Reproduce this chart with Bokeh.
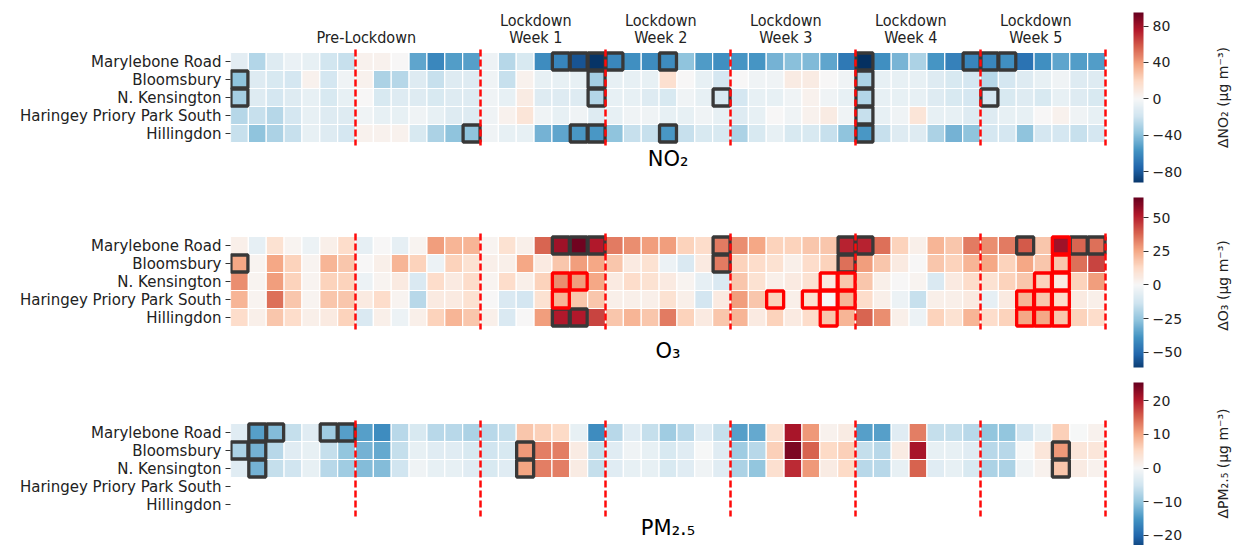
import numpy as np
from bokeh.plotting import figure
from bokeh.models import Range1d, LinearColorMapper, ColorBar, FixedTicker, ColumnDataSource
from bokeh.embed import file_html
from bokeh.resources import INLINE
from bokeh.core.properties import value

# ---------------- data ----------------
stations = ["Marylebone Road", "Bloomsbury", "N. Kensington",
            "Haringey Priory Park South", "Hillingdon"]
period_names = ["Pre-Lockdown", "Week 1", "Week 2", "Week 3", "Week 4", "Week 5"]
period_centres = [7.6, 17.1, 24.1, 31.1, 38.1, 45.1]   # label positions in days
week_bounds = [7, 14, 21, 28, 35, 42, 49]           # red dashed lines (days)
n_days = 49

no2_marylebone = [-10, -28, -12, -6, -8, -18, -22, 4, 4, 0, -50, -62, -53, -52,
                  -5, -27, -15, -60, -63, -82, -93, -62, -58, -60, -60, -38, -54, -58,
                  -56, -56, -45, -40, -42, -50, -68, -95, -58, -44, -30, -56, -64, -63,
                  -62, -58, -70, -58, -50, -53, -53]
no2_bloomsbury = [-38, -12, -15, -17, 4, -17, -4, 4, -30, -27, -12, -22, -12, -12,
                  -4, -22, 4, -8, -8, -8, -32, -8, -8, -8, 15, 0, -8, -17,
                  0, -4, -4, 8, 8, 0, -4, -30, -8, -8, -8, -12, -15, -17,
                  -27, -17, -12, -8, -4, -12, -12]
no2_nkensington = [-32, -12, -17, -12, -8, -15, -8, 0, -15, -12, -12, -15, -12, -12,
                   -4, -8, 8, -12, -12, -12, -28, -8, -8, -12, -15, -4, -8, -15,
                   -17, -8, -8, -4, 4, -4, -8, -28, -8, -8, -8, -12, -15, -17,
                   -17, -15, -12, -15, -8, -12, -15]
no2_haringey = [-27, -22, -27, -17, -8, -12, -12, -4, -8, -8, -4, -8, -12, -12,
                -4, 4, 12, -4, -8, -4, -12, -8, -4, -4, -8, -8, -4, -8,
                -12, -8, 0, -4, 4, 8, -4, -22, -8, -4, 12, -8, -8, -12,
                -12, -8, -8, 0, 4, -4, -8]
no2_hillingdon = [-22, -38, -30, -22, -8, -12, -17, 4, 4, 4, -15, -30, -38, -38,
                  -4, -8, -8, -45, -50, -55, -55, -38, -22, -22, -55, -22, -15, -15,
                  -30, -15, -8, -15, -15, -22, -38, -55, -22, -12, -12, -30, -45, -38,
                  -17, -17, -38, -17, -17, -22, -17]

o3_marylebone = [4, -6, 10, 2, -4, 4, 12, -6, 0, -6, 2, 27, 22, 22,
                 2, 10, 4, 38, 55, 63, 52, 34, 30, 27, 27, 15, 12, 34,
                 30, 25, 15, 15, 18, 18, 50, 50, 36, 15, 4, 22, 18, 34,
                 30, 34, 40, 18, 55, 38, 36]
o3_bloomsbury = [25, 2, 25, 15, 2, 22, 18, 0, 4, 22, 15, -4, 15, 10,
                 4, 4, 25, 6, 18, 27, 25, 18, 6, 10, -4, -10, 6, 34,
                 15, 12, 10, 4, 12, 15, 36, 27, 18, 6, 0, 18, 15, 22,
                 25, 15, 25, 18, 18, 36, 44]
o3_nkensington = [30, 2, 27, 15, 2, 15, 15, -4, 2, 6, -10, 12, 6, 12,
                  2, 12, 4, 15, 30, 27, 25, 6, 12, 10, 6, 2, -6, -10,
                  18, 10, 4, 6, 10, 6, 18, 18, 4, 0, 2, -10, 6, 12,
                  10, 15, 18, 15, 6, 15, 27]
o3_haringey = [22, 2, 36, 18, 2, 18, 18, 6, 12, 2, -18, 6, 6, 10,
               0, -10, -12, 10, 22, 18, 18, 4, 4, 4, 10, 4, -12, 6,
               27, 18, 15, 4, 10, 0, 22, 12, 4, -4, -15, 4, 4, 6,
               -6, 6, 22, 18, 12, 6, 4]
o3_hillingdon = [12, 4, 18, 12, 4, 6, 15, -10, 4, -4, 4, 15, 22, 18,
                 4, -10, 0, 27, 52, 52, 44, 18, 22, 18, 34, 15, 6, 18,
                 22, 6, 15, 6, 12, 18, 22, 38, 30, 4, -4, 15, 10, 22,
                 12, 15, 25, 25, 18, 15, 12]

pm25_marylebone = [-3, -14, -11, -6, -3, -9, -14, -14, -16, -7, -4, -7, -7, -8,
                   -7, -6, 7, 6, 5, -2, -16, -7, -3, -6, -9, -7, -3, -6,
                   -14, -13, 4, 21, 11, 1, 2, -14, -14, -3, 13, -6, -6, -7,
                   -10, -10, -5, -2, 6, 0, 1]
pm25_bloomsbury = [-8, -12, -7, -3, -2, -6, -10, -12, -13, -6, -2, -3, -3, -4,
                   -5, -4, 11, 13, 13, 2, -6, -3, -1, -2, -4, -3, 0, -3,
                   -9, -7, 6, 24, 15, 5, 6, -6, -7, 2, 21, -2, -2, -3,
                   -7, -7, 0, 3, 11, 3, 3]
pm25_nkensington = [-3, -12, -6, -5, -2, -7, -9, -11, -11, -5, -1, -2, -2, -3,
                    -4, -3, 10, 13, 13, 2, -6, -3, -2, -2, -4, -3, -1, -3,
                    -8, -10, 4, 19, 11, 2, 5, -7, -7, -2, 15, -3, -2, -4,
                    -8, -8, -1, 1, 7, 2, 1]
pm25_haringey = None      # no PM2.5 measurements
pm25_hillingdon = None

# significant days (station index -> day indices); dark = significant, red = ozone red boxes
no2_sig = {0: [18, 19, 20, 21, 24, 35, 41, 42, 43], 1: [0, 20, 35],
           2: [0, 20, 27, 35, 42], 3: [35], 4: [13, 19, 20, 24, 35]}
o3_sig = {0: [18, 19, 20, 27, 34, 35, 44, 47, 48], 1: [0, 27, 34], 4: [18, 19]}
o3_sig_red = {0: [46], 1: [46], 2: [18, 19, 33, 34, 45, 46],
              3: [18, 30, 32, 33, 34, 44, 45, 46], 4: [33, 44, 45, 46]}
pm25_sig = {0: [1, 2, 5, 6], 1: [0, 1, 16, 46], 2: [1, 16, 46]}

no2_rows = [no2_marylebone, no2_bloomsbury, no2_nkensington, no2_haringey, no2_hillingdon]
o3_rows = [o3_marylebone, o3_bloomsbury, o3_nkensington, o3_haringey, o3_hillingdon]
pm25_rows = [pm25_marylebone, pm25_bloomsbury, pm25_nkensington, pm25_haringey, pm25_hillingdon]

# ---------------- style / layout ----------------
RDBU = ['#053061', '#2166ac', '#4393c3', '#92c5de', '#d1e5f0', '#f7f7f7',
        '#fddbc7', '#f4a582', '#d6604d', '#b2182b', '#67001f']


def interp_palette(pal, n):
    rgb = np.array([[int(c[i:i + 2], 16) for i in (1, 3, 5)] for c in pal], float)
    src = np.linspace(0, 1, len(pal))
    t = np.linspace(0, 1, n)
    ch = [np.interp(t, src, rgb[:, k]) for k in range(3)]
    return ['#%02x%02x%02x' % (int(round(ch[0][i])), int(round(ch[1][i])), int(round(ch[2][i])))
            for i in range(n)]


PAL = interp_palette(RDBU, 256)
FONT = "DejaVu Sans"
COND = "DejaVu Sans Condensed, Liberation Sans Narrow, DejaVu Sans"
ROW_H = 18
W, H = 1248, 545
LEFT = 230
CELL_PX = 875.0 / n_days
x_end = (W - LEFT) / CELL_PX

p = figure(width=W, height=H, x_range=Range1d(0, x_end), y_range=Range1d(H, 0),
           output_backend="svg", toolbar_location=None,
           min_border_left=LEFT, min_border_right=0, min_border_top=0, min_border_bottom=0)
p.xaxis.visible = False
p.grid.visible = False
p.outline_line_color = None
p.background_fill_color = "white"
p.border_fill_color = "white"

panels = [
    dict(rows=no2_rows, sig=no2_sig, red={}, top=52, lim=95, dlow=-92, dhigh=95,
         ticks=[-80, -40, 0, 40, 80], title="NO₂", title_y=158,
         cb_label="ΔNO₂ (μg m⁻³)", cb_label_y=97, cb_bottom=H - 182, cb_h=170),
    dict(rows=o3_rows, sig=o3_sig, red=o3_sig_red, top=236, lim=65, dlow=-61, dhigh=65,
         ticks=[-50, -25, 0, 25, 50], title="O₃", title_y=350,
         cb_label="ΔO₃ (μg m⁻³)", cb_label_y=285, cb_bottom=H - 367, cb_h=170),
    dict(rows=pm25_rows, sig=pm25_sig, red={}, top=423, lim=25.4, dlow=25.4 - (H - 382) / 3.375,
         dhigh=25.4, ticks=[-20, -10, 0, 10, 20], title="PM₂.₅", title_y=527,
         cb_label="ΔPM₂.₅ (μg m⁻³)", cb_label_y=463, cb_bottom=0, cb_h=H - 382),
]

tick_pos, tick_lab = [], {}
for pn in panels:
    top = pn["top"]
    mapper = LinearColorMapper(palette=PAL, low=-pn["lim"], high=pn["lim"])
    xs, ys, vs = [], [], []
    for r, row in enumerate(pn["rows"]):
        yc = top + ROW_H * r + ROW_H // 2
        tick_pos.append(yc)
        tick_lab[yc] = stations[r]
        if row is None:
            continue
        for d, v in enumerate(row):
            xs.append(d + 0.5); ys.append(yc); vs.append(v)
    src = ColumnDataSource(dict(x=xs, y=ys, v=vs))
    p.rect(x="x", y="y", width=1, height=ROW_H, source=src,
           fill_color={"field": "v", "transform": mapper},
           line_color="white", line_width=1.2)

    # significance boxes
    for boxes, col in ((pn["sig"], "#383838"), (pn["red"], "#ff0000")):
        bx, by = [], []
        for r, days in boxes.items():
            for d in days:
                bx.append(d + 0.5); by.append(top + ROW_H * r + ROW_H // 2)
        if bx:
            p.rect(x=bx, y=by, width=0.95, height=ROW_H - 1, fill_color=None,
                   line_color=col, line_width=3.3)

    # lockdown week boundaries
    p.segment(x0=week_bounds, y0=[top - 3] * len(week_bounds),
              x1=week_bounds, y1=[top + 5 * ROW_H + 3] * len(week_bounds),
              line_color="#ff0a0a", line_width=2.5, line_dash="7 3")

    # panel title
    p.text(x=[n_days / 2], y=[pn["title_y"]], text=[pn["title"]],
           text_align="center", text_baseline="middle",
           text_font=value(FONT), text_font_size="21px", text_color="black")

    # colour bar
    cb = ColorBar(color_mapper=mapper, location=(903, pn["cb_bottom"]), width=10, height=pn["cb_h"],
                  padding=0, margin=0, display_low=pn["dlow"], display_high=pn["dhigh"],
                  ticker=FixedTicker(ticks=pn["ticks"]),
                  major_label_overrides={t: str(t).replace("-", "−") for t in pn["ticks"]},
                  major_tick_out=5, major_tick_in=0, major_tick_line_color="#333333",
                  label_standoff=4, major_label_text_font_size="14px",
                  major_label_text_font=FONT, major_label_text_color="#222222",
                  background_fill_alpha=0, border_line_color=None, bar_line_color=None)
    p.add_layout(cb)

    p.text(x=[(1222 - LEFT) / CELL_PX], y=[pn["cb_label_y"]], text=[pn["cb_label"]],
           angle=np.pi / 2, text_align="center", text_baseline="middle",
           text_font=value(FONT), text_font_size="14px", text_color="#222222")

# period labels above the NO2 panel
p.text(x=period_centres[1:], y=[20] * 5, text=["Lockdown"] * 5,
       text_align="center", text_baseline="middle",
       text_font=value(COND), text_font_size="16px", text_color="#222222")
p.text(x=period_centres, y=[37] * 6, text=period_names,
       text_align="center", text_baseline="middle",
       text_font=value(COND), text_font_size="16px", text_color="#222222")

ax = p.yaxis[0]
ax.ticker = FixedTicker(ticks=tick_pos)
ax.major_label_overrides = tick_lab
ax.axis_line_color = None
ax.major_tick_in = 0
ax.major_tick_out = 5
ax.major_tick_line_color = "#333333"
ax.minor_tick_line_color = None
ax.major_label_standoff = 4
ax.major_label_text_font = FONT
ax.major_label_text_font_size = "15px"
ax.major_label_text_color = "#222222"

open("out.html", "w").write(file_html(p, INLINE))
